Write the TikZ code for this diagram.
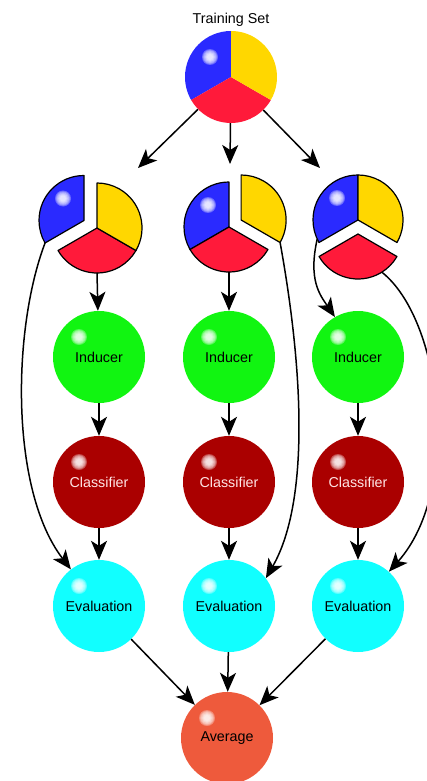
\documentclass[tikz,border=0pt]{standalone}
\usepackage{fontspec}
\setmainfont{Liberation Sans}
\usetikzlibrary{arrows.meta, positioning, calc}

\definecolor{pieblue}{HTML}{2A2AFF}
\definecolor{pieyellow}{HTML}{FFD700}
\definecolor{piered}{HTML}{FF1A3A}
\definecolor{indgreen}{HTML}{11F511}
\definecolor{clsred}{HTML}{AA0000}
\definecolor{clstext}{HTML}{FFE6E6}
\definecolor{evalcyan}{HTML}{11FFFF}
\definecolor{avgorange}{HTML}{EE5A3C}

% White glint: stacked translucent discs
\newcommand{\glint}[1]{%
	\foreach \r in {8, 7, ..., 3}
		\fill [white, opacity = 0.3] #1 circle (\r pt);}

\tikzset{
	label font/.style = {font = \fontsize{14.3}{17}\selectfont},
	sphere/.style = {circle, minimum size = 92pt, inner sep = 0pt, fill = #1, label font,
		path picture = {\glint{([shift = {(-20pt, 20pt)}] path picture bounding box.center)}}},
	piece/.style = {fill = #1, draw = black, line width = 1.2pt, line join = round},
	link/.style = {->, line width = 1.5pt}
}

\begin{document}
\begin{tikzpicture}[> = {Stealth[length = 19pt, width = 16pt, inset = 5pt]}, x = 1pt, y = 1pt]

	% Definition
	
	\def\R{45}		% Radius of split pies
	\def\T{46}		% Radius of training pie
	
	\useasboundingbox (0, 0) rectangle (426, -781);
	
	% Training set pie
	
	\node [circle, minimum size = 92pt, inner sep = 0pt] (train) at (231, -77) {};
	
	\foreach \col/\a/\b in {pieblue/90/210, piered/210/330, pieyellow/-30/90}
		\fill [\col] (train.center) -- ++ (\a : \T) arc (\a : \b : \T) -- cycle;
	
	\glint{($(train.center) + (-21, 20)$)}
	
	\node [inner sep = 0pt, label font, above = 4pt of train] (tslabel) {Training Set};
	
	% Split pies (offset of blue, red, yellow piece)
	
	\foreach \n/\x/\y/\bo/\ro/\yo in {1/97/228/15/0/0, 2/229/227/0/0/14, 3/358/220/0/14/0}
	{
		\coordinate (split\n) at (\x, -\y);
		\coordinate (blue\n) at ($(split\n) + (150 : \bo)$);
		\coordinate (red\n) at ($(split\n) + (270 : \ro)$);
		\coordinate (yellow\n) at ($(split\n) + (30 : \yo)$);
		
		\filldraw [piece = pieblue] (blue\n) -- ++ (90 : \R) arc (90 : 210 : \R) -- cycle;
		\filldraw [piece = piered] (red\n) -- ++ (210 : \R) arc (210 : 330 : \R) -- cycle;
		\filldraw [piece = pieyellow] (yellow\n) -- ++ (-30 : \R) arc (-30 : 90 : \R) -- cycle;
		
		\glint{($(blue\n) + (-21, 22)$)}
	}
	
	% Arrow ends and curve starts on the pieces
	
	\coordinate (tip1) at (138, -168);
	\coordinate (tip2) at (230, -164);
	\coordinate (tip3) at (320, -168);
	
	\coordinate (out1) at ($(red1) + (270 : \R)$);
	\coordinate (out2) at ($(red2) + (270 : \R)$);
	\coordinate (test1) at ($(blue1) + (210 : \R)$);
	\coordinate (test2) at ($(yellow2) + (-30 : \R)$);
	\coordinate (out3) at ($(blue3) + (205 : \R)$);
	\coordinate (test3) at ($(red3) + (302 : \R)$);
	
	% Average
	
	\node [sphere = avgorange] (avg) at (227, -738) {Average};
	
	% Columns: inducer, classifier, evaluation
	
	\foreach \n/\x in {1/99, 2/229, 3/358}
	{
		\node [sphere = indgreen] (ind\n) at (\x, -357) {Inducer};
		\node [sphere = clsred, text = clstext] (cls\n) at (\x, -482) {Classifier};
		\node [sphere = evalcyan] (eval\n) at (\x, -606) {Evaluation};
		
		\draw [link] (train) -- (tip\n);
		\draw [link] (ind\n) -- (cls\n);
		\draw [link] (cls\n) -- (eval\n);
		\draw [link] (eval\n) -- (avg);
	}
	
	% Training parts to inducers
	
	\draw [link] (out1) -- (ind1);
	\draw [link] (out2) -- (ind2);
	\draw [link] (out3) .. controls (308, -280) and (320, -295) .. (ind3.120);
	
	% Test parts to evaluations
	
	\draw [link] (test1) .. controls (12, -330) and (10, -490) .. (eval1);
	\draw [link] (test2) .. controls (305, -380) and (308, -505) .. (eval2.37);
	\draw [link] (test3) .. controls (442, -320) and (462, -490) .. (eval3.48);

\end{tikzpicture}
\end{document}
